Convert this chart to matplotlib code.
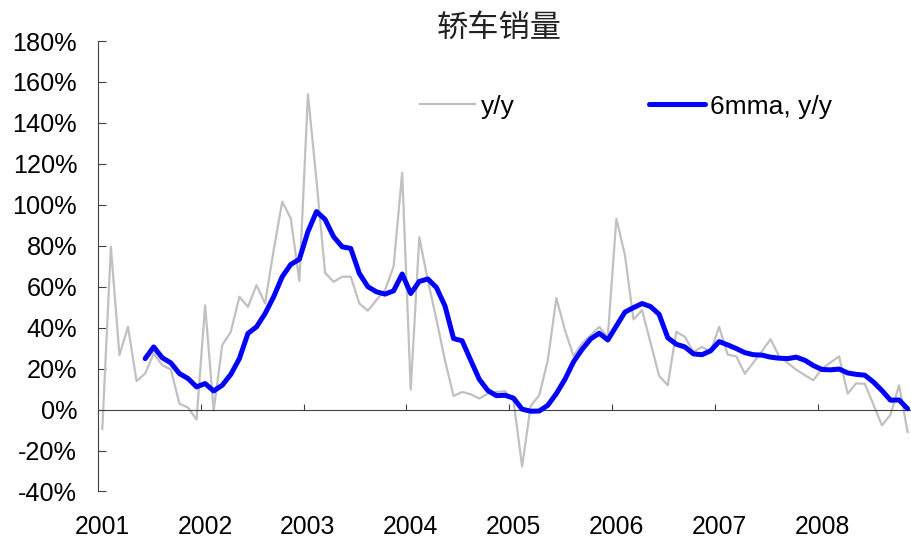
import matplotlib
matplotlib.use("Agg")
import matplotlib.pyplot as plt
import matplotlib.transforms as mtransforms
from matplotlib.ticker import FixedLocator, FuncFormatter

plt.rcParams['font.family'] = ['Liberation Sans', 'DejaVu Sans']
plt.rcParams['axes.unicode_minus'] = False

# Monthly car sales growth, Jan 2001 - Nov 2008 (percent)
yoy = [
    -9.5, 79.5, 26.6, 40.4, 13.9, 17.6, 27.4, 21.7, 19.6, 2.9, 1.0, -4.9,      # 2001
    50.9, -0.5, 31.5, 38.0, 55.1, 50.2, 60.8, 51.8, 77.9, 101.5, 93.4, 62.8,   # 2002
    154.0, 112.0, 66.8, 62.4, 64.9, 64.9, 51.8, 48.3, 53.5, 58.4, 69.8, 115.7, # 2003
    9.8, 84.2, 63.0, 44.0, 24.0, 6.6, 8.6, 7.5, 5.4, 7.8, 8.6, 9.0,            # 2004
    4.2, -27.8, 1.8, 7.0, 24.1, 54.5, 38.8, 26.2, 32.3, 36.3, 40.4, 35.5,      # 2005
    93.2, 75.5, 44.0, 48.6, 32.5, 16.4, 11.9, 38.0, 35.5, 28.2, 30.6, 28.2,    # 2006
    40.4, 26.8, 26.0, 17.5, 23.0, 28.5, 34.4, 26.0, 22.8, 19.5, 16.8, 14.3,    # 2007
    20.0, 23.0, 26.0, 7.8, 12.8, 12.6, 2.5, -7.7, -2.5, 11.9, -10.9,           # 2008
]

# 6-month moving average, starting Jun 2001
mma6_start = 5
mma6 = [
    24.9, 30.6, 25.3, 22.8, 17.6, 15.2, 11.1,
    12.7, 9.1, 11.9, 17.2, 24.9, 37.2, 40.4, 46.9, 55.1, 64.9, 70.9, 73.4,
    86.9, 96.7, 92.9, 84.4, 79.5, 78.7, 66.5, 60.0, 57.5, 56.4, 58.0, 66.2,
    56.7, 62.6, 63.8, 59.6, 50.6, 34.7, 33.6, 24.1, 14.8, 9.3, 6.8, 7.0,
    5.6, 0.2, -0.8, -0.7, 2.1, 7.8, 14.8, 23.3, 29.4, 34.5, 37.3, 34.0,
    40.8, 47.6, 49.8, 51.8, 50.3, 46.5, 35.1, 31.9, 30.6, 27.2, 26.8, 28.7,
    33.2, 31.6, 29.8, 27.8, 26.8, 26.6, 25.6, 25.1, 24.9, 25.6, 24.1, 21.5,
    19.6, 19.4, 19.8, 17.9, 17.2, 16.8, 13.5, 9.3, 4.6, 4.7, 0.4,
]

years = ['2001', '2002', '2003', '2004', '2005', '2006', '2007', '2008']
y_ticks = [-40, -20, 0, 20, 40, 60, 80, 100, 120, 140, 160, 180]

n = len(yoy)
x_yoy = [i + 0.5 for i in range(n)]
x_mma = [mma6_start + i + 0.5 for i in range(len(mma6))]

fig = plt.figure(figsize=(9.11, 5.41), dpi=100)
ax = fig.add_axes([0.1076, 0.0915, 0.8934, 0.8327])

ax.plot(x_yoy, yoy, color='#c0c0c0', lw=1.6, label='y/y', zorder=2)
ax.plot(x_mma, mma6, color='#0000ff', lw=3.6, label='6mma, y/y',
        solid_joinstyle='round', solid_capstyle='round', zorder=3)

ax.set_xlim(0, n)
ax.set_ylim(-40, 180)

spine_color = '#404040'
for side in ('top', 'right'):
    ax.spines[side].set_visible(False)
ax.spines['left'].set_color(spine_color)
ax.spines['left'].set_linewidth(0.8)
ax.spines['bottom'].set_position(('data', 0))
ax.spines['bottom'].set_color(spine_color)
ax.spines['bottom'].set_linewidth(0.8)

ax.yaxis.set_major_locator(FixedLocator(y_ticks))
ax.yaxis.set_major_formatter(FuncFormatter(lambda v, p: f'{int(v)}%'))
ax.tick_params(axis='y', direction='in', length=6, width=0.8, color=spine_color,
               labelsize=18.2, pad=15, labelcolor='black')

ax.xaxis.set_major_locator(FixedLocator([12 * k for k in range(1, len(years))]))
ax.tick_params(axis='x', direction='in', length=4.5, width=0.8, color=spine_color,
               labelbottom=False)

# Year labels sit below the plot, centred on each January
trans = mtransforms.blended_transform_factory(ax.transData, ax.transAxes)
for k, yr in enumerate(years):
    ax.text(12 * k + 0.5, -0.079, yr, transform=trans, ha='center', va='center',
            fontsize=17.8, color='black')

fig.text(0.548, 1 - 27.5 / 541, '轿车销量', ha='center', va='center',
         fontsize=22.5, fontweight='light',
         family=['Noto Sans CJK SC', 'DejaVu Sans'], color='#222222')

leg = ax.legend(loc='center left', bbox_to_anchor=(420 / 911, 1 - 106.7 / 541),
                bbox_transform=fig.transFigure, ncol=2, frameon=False,
                fontsize=19, handlelength=2.1, handletextpad=0.2,
                columnspacing=5.1, borderpad=0, borderaxespad=0)

fig.savefig('out.png', dpi=100)
